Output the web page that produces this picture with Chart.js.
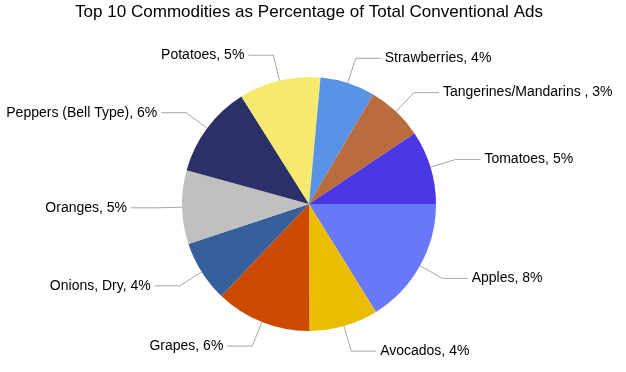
<!DOCTYPE html>
<html>
<head>
<meta charset="utf-8">
<script src="https://cdn.jsdelivr.net/npm/chart.js@4"></script>
<style>
  html, body { margin: 0; padding: 0; background: #fff; }
  #wrap { width: 626px; height: 372px; }
</style>
</head>
<body>
<div id="wrap"><canvas id="pieChart"></canvas></div>
<script>
// commodities, clockwise from 3 o'clock
const commodities = ['Apples', 'Avocados', 'Grapes', 'Onions, Dry', 'Oranges', 'Peppers (Bell Type)', 'Potatoes', 'Strawberries', 'Tangerines/Mandarins ', 'Tomatoes'];
// share of total conventional ads
const shares = [8.1, 4.4, 6.1, 3.9, 4.7, 5.9, 5.2, 3.5, 3.6, 4.7];
// percent text shown on the labels
const pctLabels = ['8%', '4%', '6%', '4%', '5%', '6%', '5%', '4%', '3%', '5%'];
const sliceColors = ['#6A79FA', '#EBBD00', '#CC4A00', '#375F9C', '#C0C0C0', '#2B3069', '#F5EA6D', '#5A92E5', '#B96C3E', '#4A36E2'];
const chartTitle = 'Top 10 Commodities as Percentage of Total Conventional Ads';

const ctx = document.getElementById('pieChart').getContext('2d');

// title is a bit wide in the original, so stretch it to that width
const wideTitle = {
    id: 'wideTitle',
    afterDraw(chart) {
        const c = chart.ctx;
        c.save();
        c.font = '17px "Liberation Sans", Arial, sans-serif';
        c.fillStyle = '#000';
        c.textAlign = 'center';
        c.textBaseline = 'alphabetic';
        const w = c.measureText(chartTitle).width;
        c.translate(309, 17);
        c.scale(468 / w, 1);
        c.fillText(chartTitle, 0, 0);
        c.restore();
    }
};

// leader lines + outside labels
const outLabels = {
    id: 'outLabels',
    afterDraw(chart) {
        const c = chart.ctx;
        const arcs = chart.getDatasetMeta(0).data;
        c.save();
        c.font = '14px "Liberation Sans", Arial, sans-serif';
        c.textBaseline = 'middle';
        arcs.forEach((arc, i) => {
            const p = arc.getProps(['x', 'y', 'startAngle', 'endAngle', 'outerRadius'], true);
            const mid = (p.startAngle + p.endAngle) / 2;
            const cos = Math.cos(mid), sin = Math.sin(mid);
            const x0 = p.x + cos * p.outerRadius, y0 = p.y + sin * p.outerRadius;
            const x1 = p.x + cos * (p.outerRadius + 26), y1 = p.y + sin * (p.outerRadius + 26);
            const dir = cos >= 0 ? 1 : -1;
            const x2 = x1 + dir * 25;
            c.strokeStyle = '#a6a6a6';
            c.lineWidth = 1;
            c.beginPath();
            c.moveTo(x0, y0);
            c.lineTo(x1, y1);
            c.lineTo(x2, y1);
            c.stroke();
            c.fillStyle = '#000';
            c.textAlign = dir > 0 ? 'left' : 'right';
            c.fillText(commodities[i] + ', ' + pctLabels[i], x2 + dir * 4, y1);
        });
        c.restore();
    }
};

const data = {
    labels: commodities,
    datasets: [{
        data: shares,
        backgroundColor: sliceColors,
        borderWidth: 0
    }]
};

const config = {
    type: 'pie',
    data: data,
    options: {
        responsive: true,
        maintainAspectRatio: false,
        animation: false,
        rotation: 90,
        layout: {
            padding: {left: 100, right: 108, top: 77, bottom: 41}
        },
        plugins: {
            legend: {display: false},
            tooltip: {enabled: false},
            title: {display: false}
        }
    },
    plugins: [outLabels, wideTitle]
};

const pieChart = new Chart(ctx, config);
</script>
</body>
</html>
